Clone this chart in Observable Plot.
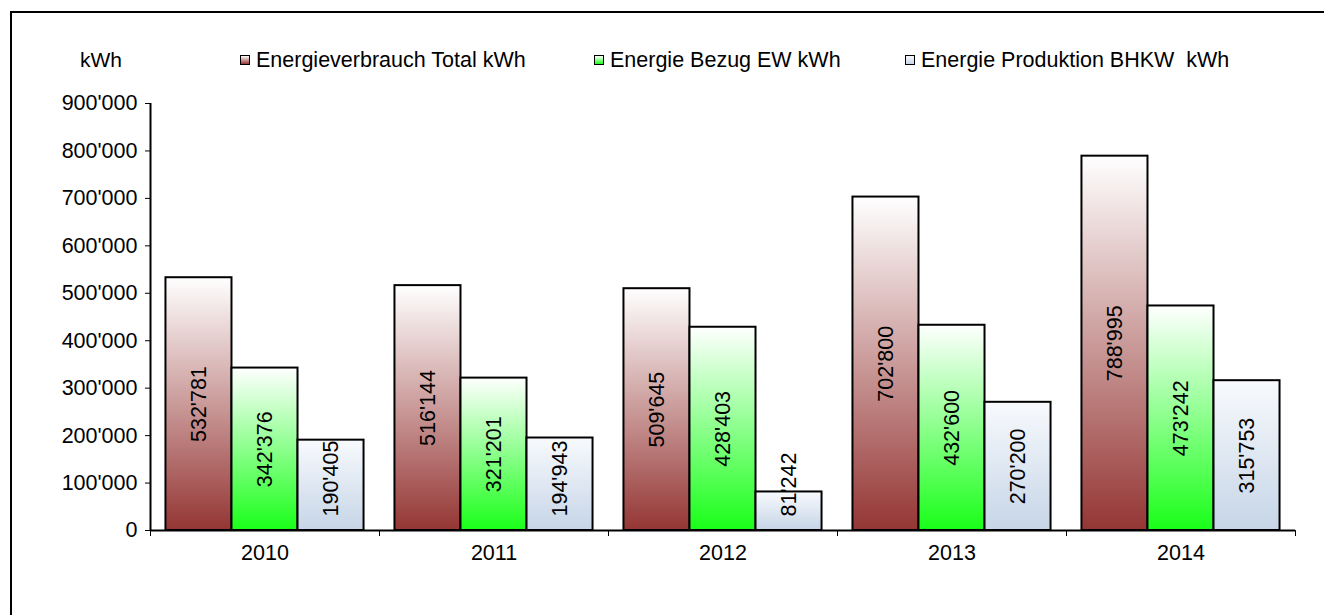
<!DOCTYPE html>
<html>
<head>
<meta charset="utf-8">
<script src="https://cdn.jsdelivr.net/npm/d3@7"></script>
<script src="https://cdn.jsdelivr.net/npm/@observablehq/plot@0.6"></script>
<style>
  html, body { margin: 0; padding: 0; background: #fff; overflow: hidden; }
  body { width: 1324px; height: 615px; position: relative; font-family: "Liberation Sans", Arial, sans-serif; }
  #frame { position: absolute; left: 10px; top: 11px; width: 1400px; height: 700px; border-left: 2px solid #000; border-top: 2px solid #000; box-sizing: border-box; pointer-events: none; }
  #header { position: relative; height: 90px; }
  .unit { position: absolute; left: 80px; top: 48px; font-size: 21px; line-height: 24px; color: #000; }
  .item { position: absolute; top: 48px; font-size: 21.5px; line-height: 24px; color: #000; white-space: pre; display: flex; align-items: center; }
  .sw { width: 8px; height: 8px; border: 1px solid #000; margin-right: 6px; }
  #chart svg { display: block; }
</style>
</head>
<body>
<svg width="0" height="0" style="position:absolute">
  <defs>
    <linearGradient id="g0" x1="0" y1="0" x2="0" y2="1">
      <stop offset="0" stop-color="#ffffff"/>
      <stop offset="1" stop-color="#943634"/>
    </linearGradient>
    <linearGradient id="g1" x1="0" y1="0" x2="0" y2="1">
      <stop offset="0" stop-color="#ffffff"/>
      <stop offset="1" stop-color="#19ff19"/>
    </linearGradient>
    <linearGradient id="g2" x1="0" y1="0" x2="0" y2="1">
      <stop offset="0" stop-color="#f8fafd"/>
      <stop offset="1" stop-color="#c6d5e7"/>
    </linearGradient>
  </defs>
</svg>
<div id="frame"></div>
<div id="header"></div>
<div id="chart"></div>
<script>
const years = ["2010", "2011", "2012", "2013", "2014"];
const seriesNames = ["Energieverbrauch Total kWh", "Energie Bezug EW kWh", "Energie Produktion BHKW  kWh"];
const totalValues = [532781, 516144, 509645, 702800, 788995];
const bezugValues = [342376, 321201, 428403, 432600, 473242];
const bhkwValues = [190405, 194943, 81242, 270200, 315753];
const yTickValues = [0, 100000, 200000, 300000, 400000, 500000, 600000, 700000, 800000, 900000];
const unitLabel = "kWh";

const seriesValues = [totalValues, bezugValues, bhkwValues];
const fills = ["url(#g0)", "url(#g1)", "url(#g2)"];
const swatchCss = [
  "linear-gradient(#ffffff, #943634)",
  "linear-gradient(#ffffff, #19ff19)",
  "linear-gradient(#f8fafd, #c6d5e7)"
];

// layout of a group of three bars inside each year band
const groupPad = 0.0675;
const barW = (1 - 2 * groupPad) / 3;

const rows = [];
seriesValues.forEach((vals, k) => vals.forEach((v, i) => rows.push({i, k, year: years[i], series: seriesNames[k], value: v})));

const fmt = v => d3.format(",")(v).replace(/,/g, "'");
const bx1 = d => d.i + groupPad + d.k * barW;
const bx2 = d => d.i + groupPad + (d.k + 1) * barW;
const bxc = d => d.i + groupPad + (d.k + 0.5) * barW;

// header: unit + legend
const header = document.getElementById("header");
const unit = document.createElement("div");
unit.className = "unit";
unit.textContent = unitLabel;
header.appendChild(unit);
const legendLeft = [240, 594, 905];
seriesNames.forEach((name, k) => {
  const it = document.createElement("div");
  it.className = "item";
  it.style.left = legendLeft[k] + "px";
  const sw = document.createElement("div");
  sw.className = "sw";
  sw.style.background = swatchCss[k];
  it.appendChild(sw);
  const t = document.createElement("span");
  t.textContent = name;
  it.appendChild(t);
  header.appendChild(it);
});

const fitting = rows.filter(d => d.value >= 200000);
const shortOnes = rows.filter(d => d.value < 200000);

const chart = Plot.plot({
  width: 1324,
  height: 525,
  marginLeft: 150,
  marginRight: 29,
  marginTop: 13,
  marginBottom: 85,
  style: {fontFamily: "Liberation Sans, Arial, sans-serif", fontSize: "21.5px", color: "#000", background: "transparent"},
  x: {domain: [0, years.length], ticks: d3.range(0, years.length + 1), tickFormat: () => "", tickSize: 6, label: null},
  y: {domain: [0, 900000], ticks: yTickValues, tickFormat: fmt, tickSize: 5, tickPadding: 8, label: null},
  marks: [
    ...seriesNames.map((name, k) => Plot.rectY(rows.filter(d => d.k === k), {
      x1: bx1, x2: bx2, y1: 0, y2: "value",
      fill: fills[k], stroke: "#000", strokeWidth: 2
    })),
    Plot.ruleY([0], {stroke: "#000", strokeWidth: 2}),
    Plot.ruleX([0], {stroke: "#000", strokeWidth: 2}),
    Plot.text(fitting, {x: bxc, y: d => d.value / 2, text: d => fmt(d.value), rotate: -90, fontSize: 21.5, fill: "#000"}),
    Plot.text(shortOnes, {x: bxc, y: 0, dy: -14, textAnchor: "start", text: d => fmt(d.value), rotate: -90, fontSize: 21.5, fill: "#000"}),
    Plot.text(years, {x: (d, i) => i + 0.5, y: 0, dy: 23, text: d => d, fontSize: 21.5, fill: "#000"})
  ]
});
document.getElementById("chart").appendChild(chart);
</script>
</body>
</html>
